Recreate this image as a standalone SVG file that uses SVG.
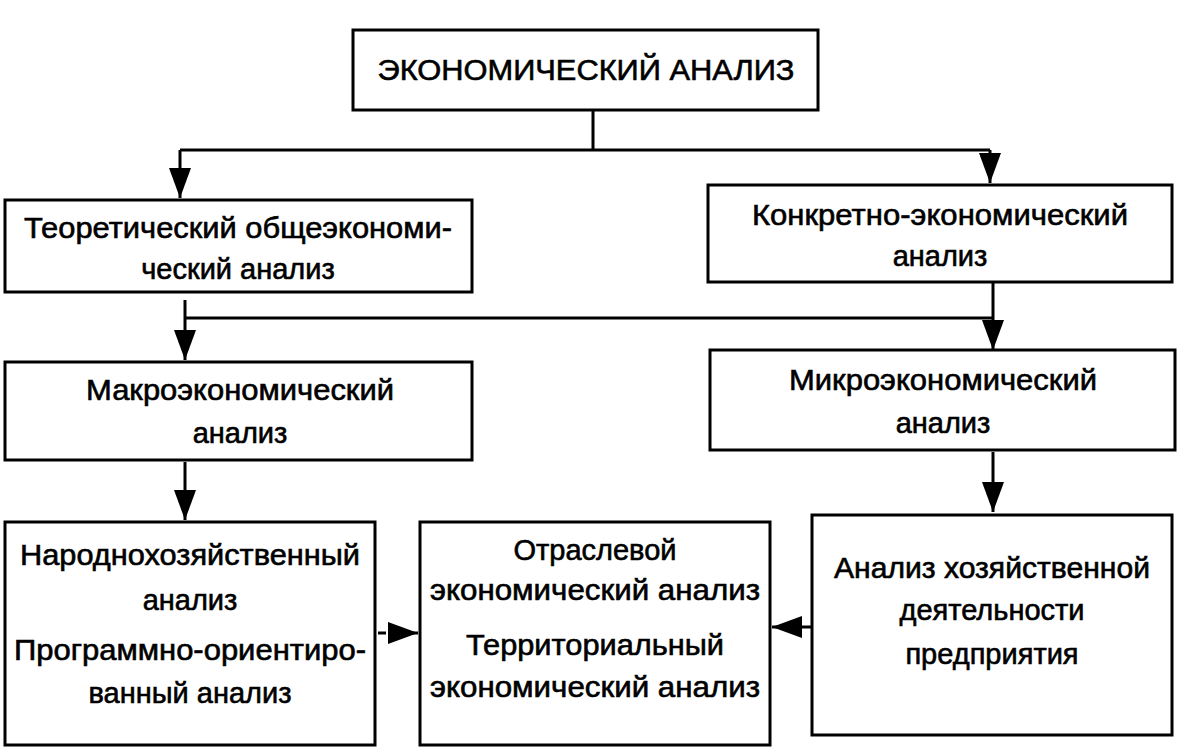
<svg xmlns="http://www.w3.org/2000/svg" width="1186" height="753" viewBox="0 0 1186 753">
<style>
.b{fill:#fff;stroke:#000;stroke-width:3}
.t{font-family:"Liberation Sans",Arial,sans-serif;font-size:29px;fill:#000;text-anchor:middle;stroke:#000;stroke-width:0.6}
.c{fill:none;stroke:#000;stroke-width:3}
</style>
<defs><marker id="a" viewBox="0 0 10 10" refX="10" refY="5" markerWidth="7" markerHeight="7" markerUnits="userSpaceOnUse" orient="auto" style="overflow:visible"><path d="M0,0 L10,5 L0,10 z"/></marker>
<marker id="ah" viewBox="0 0 10 10" refX="10" refY="5" markerWidth="30" markerHeight="22" markerUnits="userSpaceOnUse" orient="auto" preserveAspectRatio="none"><path d="M0,0 L10,5 L0,10 z"/></marker></defs>
<rect width="1186" height="753" fill="#fff"/>
<g id="connectors">
<path class="c" d="M593,110 V150 M180,150 H990"/>
<path class="c" d="M180,150 V198" marker-end="url(#ah)"/>
<path class="c" d="M990,150 V183" marker-end="url(#ah)"/>
<path class="c" d="M993,282 V350" marker-end="url(#ah)"/>
<path class="c" d="M185,318 H993"/>
<path class="c" d="M185,300 V360" marker-end="url(#ah)"/>
<path class="c" d="M185,462 V520" marker-end="url(#ah)"/>
<path class="c" d="M993,452 V512" marker-end="url(#ah)"/>
<path class="c" d="M378,633 H386"/>
<path class="c" d="M390,633 H418" marker-end="url(#ah)"/>
<path class="c" d="M812,627 H772" marker-end="url(#ah)"/>
</g>
<g id="n0"><rect class="b" x="353" y="30" width="465" height="80"/><text class="t" x="586" y="80" textLength="417" lengthAdjust="spacingAndGlyphs">ЭКОНОМИЧЕСКИЙ АНАЛИЗ</text></g>
<g id="n1"><rect class="b" x="5" y="200" width="467" height="92"/><text class="t" x="238" y="238" textLength="428" lengthAdjust="spacingAndGlyphs">Теоретический общеэкономи-</text><text class="t" x="238" y="279">ческий анализ</text></g>
<g id="n2"><rect class="b" x="708" y="185" width="464" height="97"/><text class="t" x="940" y="225" textLength="376" lengthAdjust="spacingAndGlyphs">Конкретно-экономический</text><text class="t" x="940" y="266">анализ</text></g>
<g id="n3"><rect class="b" x="5" y="362" width="467" height="98"/><text class="t" x="240" y="400" textLength="308" lengthAdjust="spacingAndGlyphs">Макроэкономический</text><text class="t" x="240" y="443">анализ</text></g>
<g id="n4"><rect class="b" x="710" y="350" width="465" height="100"/><text class="t" x="943" y="390" textLength="308" lengthAdjust="spacingAndGlyphs">Микроэкономический</text><text class="t" x="943" y="433">анализ</text></g>
<g id="n5"><rect class="b" x="5" y="522" width="370" height="223"/><text class="t" x="190" y="565" textLength="340" lengthAdjust="spacingAndGlyphs">Народнохозяйственный</text><text class="t" x="190" y="610">анализ</text><text class="t" x="190" y="660" textLength="352" lengthAdjust="spacingAndGlyphs">Программно-ориентиро-</text><text class="t" x="190" y="703">ванный анализ</text></g>
<g id="n6"><rect class="b" x="420" y="522" width="350" height="223"/><text class="t" x="595" y="560">Отраслевой</text><text class="t" x="595" y="600" textLength="330" lengthAdjust="spacingAndGlyphs">экономический анализ</text><text class="t" x="595" y="655" textLength="258" lengthAdjust="spacingAndGlyphs">Территориальный</text><text class="t" x="595" y="697" textLength="330" lengthAdjust="spacingAndGlyphs">экономический анализ</text></g>
<g id="n7"><rect class="b" x="812" y="515" width="360" height="220"/><text class="t" x="992" y="578" textLength="316" lengthAdjust="spacingAndGlyphs">Анализ хозяйственной</text><text class="t" x="992" y="620">деятельности</text><text class="t" x="992" y="664">предприятия</text></g>
</svg>
